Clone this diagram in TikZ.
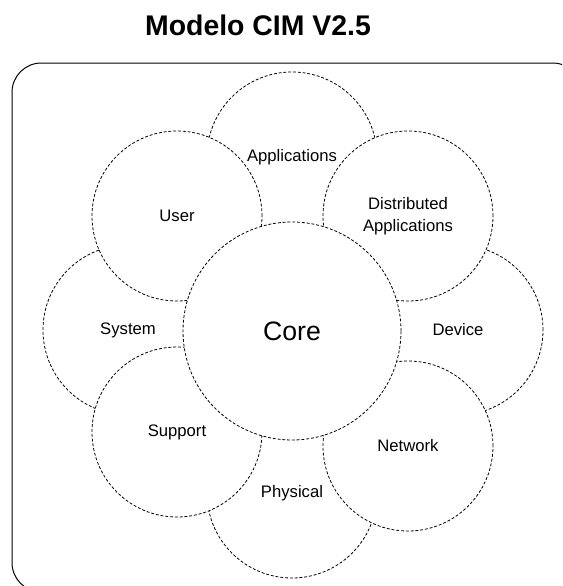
\documentclass[tikz,border=0pt]{standalone}
\usepackage{fontspec}
\setmainfont{Liberation Sans}
\begin{document}
\begin{tikzpicture}[x=0.75pt,y=-0.75pt,
  part/.style={circle,draw,dash pattern=on 2.2pt off 1.4pt,line width=0.6pt,fill=white,
    minimum size=127.5pt,inner sep=0pt,align=center,font=\fontsize{12.5}{16.5}\selectfont}]
\useasboundingbox (0,0) rectangle (562,586);
\clip (0,0) rectangle (562,586);
\node (title) at (258,25) {\fontsize{21.3}{25}\selectfont\bfseries Modelo CIM V2.5};
\draw[line width=0.75pt,rounded corners=22pt] (12,63) rectangle (582,592);
% outer ring, the ones on the axes go underneath
\foreach \x/\y/\name/\txt in {292/157/apps/Applications,128/330/sys/System,458/330/dev/Device,292/493/phys/Physical}
{
    \node[part] (\name) at (\x,\y) {\txt};
}
% diagonal ones on top
\foreach \x/\y/\name/\txt in {177/216/user/User,408/216/dist/{Distributed\\Applications},177/432/supp/Support,408/446/net/Network}
{
    \node[part] (\name) at (\x,\y) {\txt};
}
\node[part,minimum size=163.5pt,font=\fontsize{20}{24}\selectfont] (core) at (292,331) {Core};
\end{tikzpicture}
\end{document}
